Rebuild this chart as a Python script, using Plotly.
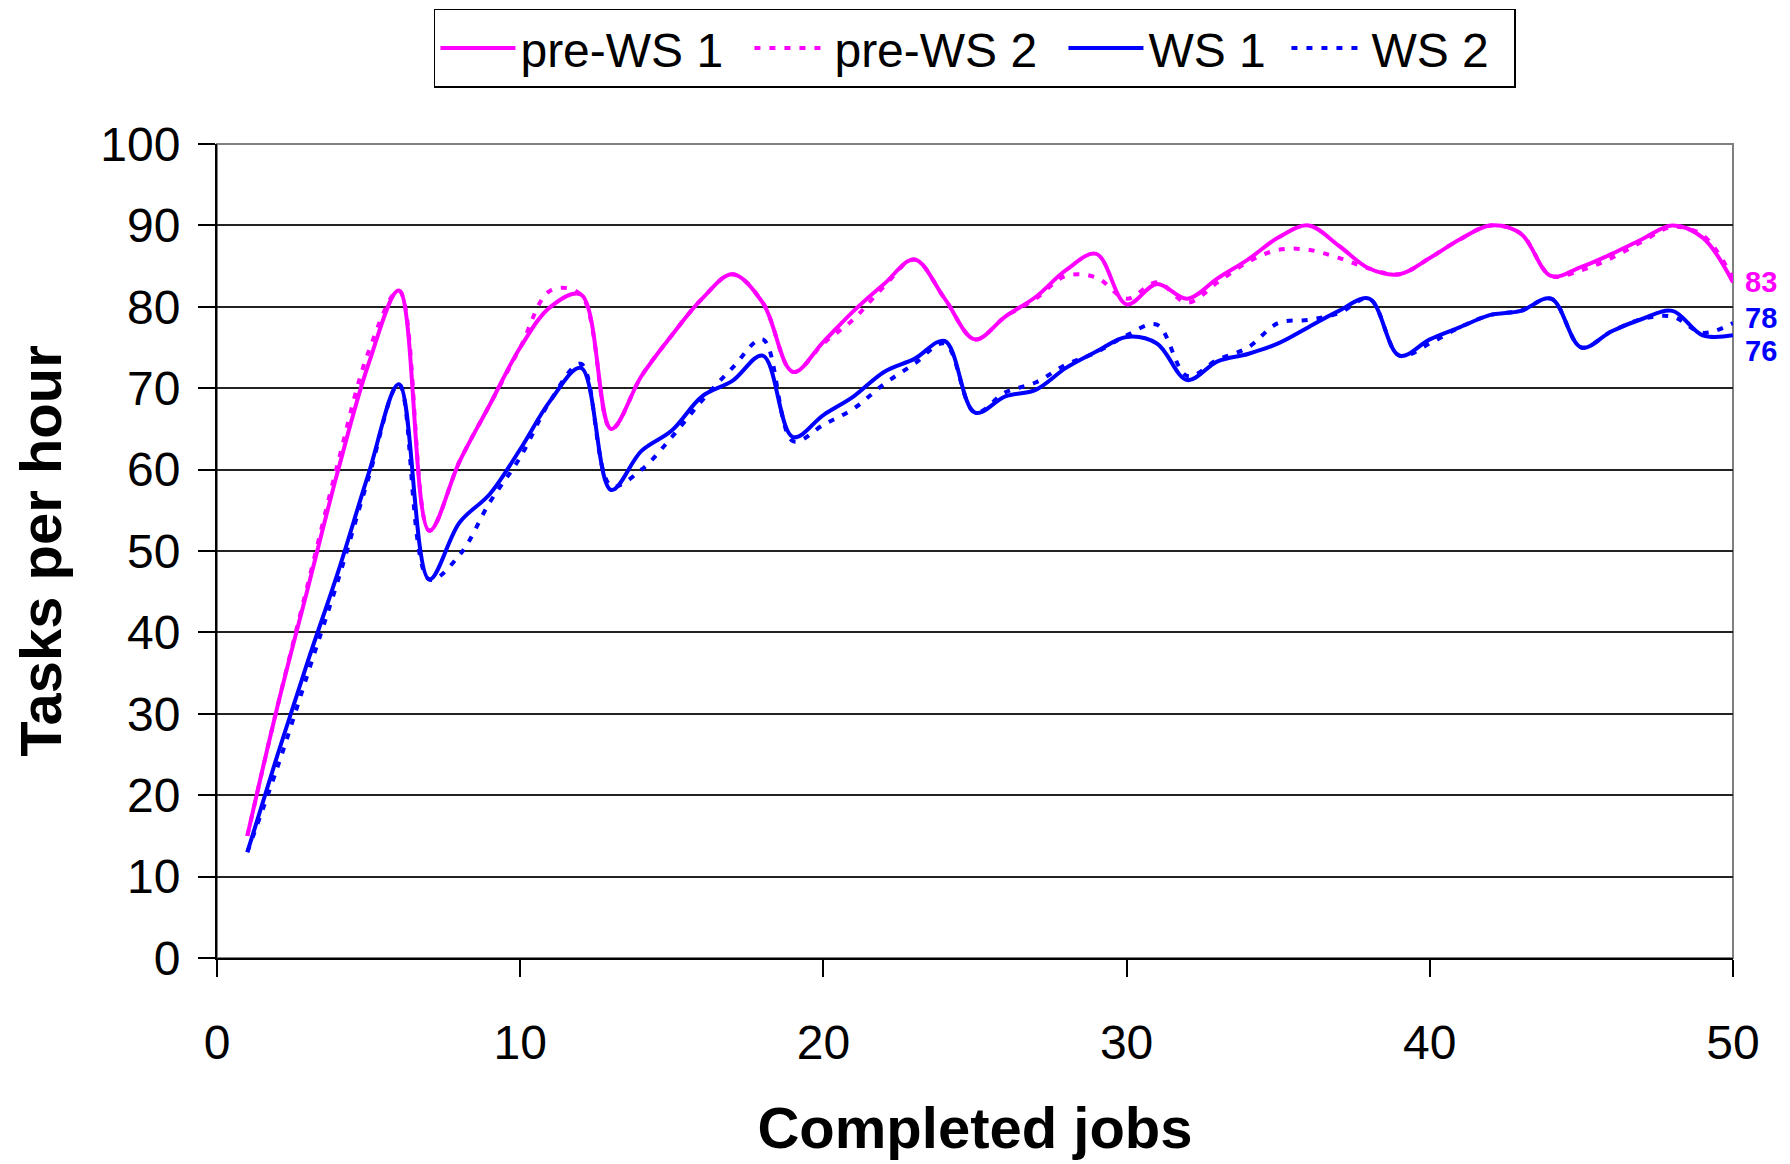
import plotly.graph_objects as go

jobs = list(range(1, 51))

pre_ws1 = [15, 31, 45.5, 60, 73, 82, 52.5, 61, 68, 75,
           80, 81.5, 65, 71.5, 76.5, 81, 84, 80.5, 72, 75.7,
           79.5, 82.8, 85.8, 81, 76, 78.8, 81.2, 84.5, 86.5, 80.3,
           82.8, 81, 83.5, 85.8, 88.5, 90, 87.5, 84.7, 84, 86,
           88.3, 90, 89, 83.8, 84.9, 86.5, 88.3, 90, 88.5, 83]
pre_ws2 = [15, 31, 46, 61, 74.5, 82, 52.5, 61, 68, 75,
           82, 81.5, 65, 71.5, 76.5, 81, 84, 80.5, 72, 75.5,
           78.5, 82.5, 85.8, 81, 76, 78.8, 81, 83.8, 83.6, 81,
           83, 80.5, 83, 85.5, 87, 87, 86, 84.7, 84, 86,
           88.3, 90, 89, 83.8, 84.5, 86, 88, 89.8, 88.8, 83.5]
ws1 = [13, 25, 36.5, 47.5, 59.5, 70.5, 46.5, 53.5, 57, 62.5,
       68.5, 72.5, 57.5, 62.3, 64.8, 69, 70.9, 74, 64, 66.7,
       69, 72, 73.6, 75.8, 67, 69, 69.8, 72.5, 74.5, 76.3,
       75.5, 71, 73.3, 74.2, 75.5, 77.5, 79.5, 81, 74, 76,
       77.5, 79, 79.5, 81, 75, 77, 78.5, 79.5, 76.5, 76.5]
ws2 = [13, 23.5, 35, 46.5, 59, 70.5, 46.5, 49.5, 56, 61.5,
       68.5, 73, 58, 60, 64, 68.5, 72.5, 76, 63.5, 65.5,
       67.5, 70.5, 73, 75.5, 67, 69.5, 70.7, 72.9, 74.4, 76.5,
       77.8, 71.5, 73.5, 75, 78, 78.4, 79.2, 81, 74, 75.5,
       77.5, 79, 79.5, 81, 75, 77, 78.5, 78.8, 76.8, 78]

end_labels = ["83", "78", "76"]
end_label_y = [83.0, 78.6, 74.6]

MAGENTA = "#FF00FF"
BLUE = "#0000FF"
FONT = "Liberation Sans, Arial, sans-serif"

fig = go.Figure()
series = [
    ("pre-WS 1", pre_ws1, MAGENTA, "solid", 224),
    ("pre-WS 2", pre_ws2, MAGENTA, "6px,9px", 224),
    ("WS 1", ws1, BLUE, "solid", 133),
    ("WS 2", ws2, BLUE, "6px,9px", 138),
]
for name, vals, col, dash, lw in series:
    fig.add_trace(go.Scatter(
        x=jobs, y=vals, name=name, mode="lines", legendwidth=lw,
        line=dict(color=col, width=4, dash=dash, shape="spline", smoothing=1.0),
    ))

label_colors = [MAGENTA, BLUE, BLUE]
for t, yv, c in zip(end_labels, end_label_y, label_colors):
    fig.add_annotation(x=50, y=yv, xref="x", yref="y", text=t, showarrow=False,
                       xanchor="left", xshift=10,
                       font=dict(family=FONT, size=29, color=c, weight="bold"))

# plot-area border (grey, top & right)
fig.add_shape(type="rect", xref="paper", yref="paper", x0=0, x1=1, y0=0, y1=1,
              line=dict(color="#808080", width=2), layer="below")

# page body has an 8px margin, so the figure is 8px smaller on each side
fig.update_layout(
    width=1782, height=1156,
    paper_bgcolor="white", plot_bgcolor="white",
    margin=dict(l=209, r=57, t=136, b=206, autoexpand=False),
    font=dict(family=FONT, color="black"),
    showlegend=True,
    legend=dict(orientation="h", x=0.1431, xanchor="left", y=1.166, yanchor="top",
                bordercolor="black", borderwidth=1.5, bgcolor="white",
                font=dict(family=FONT, size=48, color="black"),
                itemwidth=75, tracegroupgap=0),
    xaxis=dict(range=[0, 50], tickvals=[0, 10, 20, 30, 40, 50], showgrid=False, zeroline=False,
               showline=True, linecolor="black", linewidth=2, automargin=False,
               ticks="outside", ticklen=17, tickwidth=1.5, tickcolor="black",
               ticklabelstandoff=24,
               tickfont=dict(family=FONT, size=48, color="black"),
               title=dict(text="Completed jobs", standoff=40,
                          font=dict(family=FONT, size=58, color="black", weight="bold"))),
    yaxis=dict(range=[0, 100], tickvals=list(range(0, 101, 10)), showgrid=True,
               gridcolor="#222222", gridwidth=2, zeroline=False, automargin=False,
               showline=True, linecolor="black", linewidth=2,
               ticks="outside", ticklen=17, tickwidth=1.5, tickcolor="black",
               ticklabelstandoff=8,
               tickfont=dict(family=FONT, size=48, color="black"),
               title=dict(text="Tasks per hour", standoff=22,
                          font=dict(family=FONT, size=58, color="black", weight="bold"))),
)

fig.write_html("out.html")
